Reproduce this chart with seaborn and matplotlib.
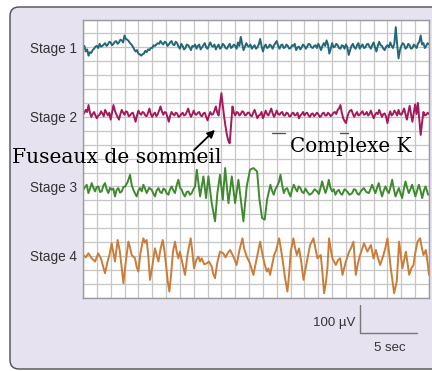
import numpy as np
import pandas as pd
import seaborn as sns
import matplotlib
matplotlib.use("Agg")
import matplotlib.pyplot as plt
from matplotlib.patches import FancyBboxPatch

# ---------------- data (units: grid cells) ----------------
stage_names = ["Stage 1", "Stage 2", "Stage 3", "Stage 4"]
stage_baselines = [18, 13, 8, 3]
stage_colors = ["#236878", "#a3195b", "#3f8a2f", "#cb7c37"]

# Stage 1 and 2 sampled every 0.1 grid cell over 25 cells (one row per cell)
stage1_values = [
    0.0, 0.1, -0.3, -0.15, -0.6, -0.35, -0.4, -0.2, -0.1, 0.05,
    0.1, -0.05, 0.25, 0.05, 0.1, 0.2, 0.3, 0.1, 0.2, 0.4,
    0.35, 0.15, 0.25, 0.4, 0.45, 0.25, 0.35, 0.55, 0.5, 0.35,
    0.85, 0.6, 0.55, 0.45, 0.3, 0.2, 0.05, -0.15, -0.3, -0.2,
    -0.45, -0.5, -0.6, -0.5, -0.45, -0.25, -0.35, -0.15, -0.2, -0.05,
    -0.05, 0.15, 0.1, 0.2, 0.3, 0.25, 0.45, 0.3, 0.2, 0.4,
    0.35, 0.1, 0.2, 0.35, 0.45, 0.2, 0.15, 0.4, 0.3, 0.05,
    -0.1, 0.25, 0.1, -0.15, -0.05, 0.2, 0.15, 0.0, -0.2, 0.1,
    0.05, 0.2, -0.1, 0.1, 0.2, -0.15, 0.0, 0.15, 0.3, 0.0,
    -0.1, 0.15, 0.35, 0.1, 0.05, 0.2, -0.15, 0.05, 0.2, -0.1,
    0.0, 0.25, 0.15, -0.05, -0.1, 0.1, 0.25, -0.05, 0.05, 0.2,
    0.1, -0.1, 0.35, 0.1, 0.75, 0.25, -0.2, 0.05, 0.3, 0.1,
    0.05, 0.2, -0.1, 0.05, 0.15, -0.1, 0.0, 0.2, 0.6, 0.1,
    -0.3, 0.05, 0.2, -0.05, 0.0, 0.2, 0.1, -0.1, 0.15, 0.3,
    0.45, 0.1, -0.1, 0.15, 0.2, -0.05, 0.0, 0.2, 0.1, -0.1,
    -0.05, 0.15, 0.1, 0.25, -0.2, 0.0, 0.05, -0.15, 0.0, 0.2,
    0.1, -0.1, 0.05, 0.25, 0.2, 0.0, -0.05, 0.1, 0.15, -0.05,
    0.25, 0.05, -0.2, 0.1, 0.3, 0.1, 0.5, 0.2, -0.45, -0.1,
    0.3, 0.0, 0.05, 0.25, 0.15, -0.05, -0.1, 0.15, 0.1, -0.1,
    0.2, 0.0, -0.55, -0.2, 0.1, 0.25, 0.0, -0.1, 0.15, 0.3,
    -0.1, 0.1, 0.2, -0.05, 0.0, 0.2, 0.25, 0.05, -0.1, 0.15,
    0.35, 0.0, -0.3, 0.1, 0.4, 0.15, 0.1, -0.1, -0.2, 0.05,
    0.15, 0.0, 0.35, 0.1, -0.05, 0.3, 1.45, 0.2, -0.8, -0.2,
    0.1, 0.3, 0.2, -0.1, 0.0, 0.25, 0.15, -0.1, -0.05, 0.2,
    0.1, -0.05, 0.25, 0.4, 0.85, 0.2, 0.3, -0.05, 0.1, 0.3,
    0.2]

stage2_values = [
    0.15, 0.3, 0.5, 0.35, 0.85, 0.3, 0.0, 0.2, 0.35, 0.1,
    -0.1, 0.1, 0.15, 0.4, 0.25, 0.05, 0.5, 0.3, 0.1, 0.3,
    -0.2, 0.3, 0.85, 0.45, 0.2, 0.0, -0.2, 0.2, 0.5, 0.3,
    0.15, 0.4, 0.35, 0.05, 0.1, 0.25, 0.3, 0.0, -0.35, 0.1,
    0.45, 0.25, 0.15, 0.35, 0.3, 0.1, 0.05, 0.3, 0.6, 0.2,
    0.0, 0.2, 0.3, 0.05, 0.2, 0.45, 0.75, 0.4, 0.15, 0.35,
    0.3, 0.0, -0.35, 0.1, 0.35, 0.2, 0.1, 0.3, 0.25, 0.0,
    0.05, 0.2, 0.3, 0.1, 0.15, 0.35, 0.6, 0.25, 0.0, 0.2,
    0.45, 0.2, 0.15, 0.3, 0.35, 0.1, 0.05, 0.25, 0.3, 0.0,
    -0.25, 0.1, 0.35, 0.15, 0.2, 0.45, 0.75, 0.3, 0.1, 0.9,
    1.7, 0.8, 0.0, -0.7, -1.3, -1.7, -1.9, -0.6, 0.75, 0.3,
    0.1, 0.35, 0.3, 0.1, 0.2, 0.4, 0.35, 0.1, 0.15, 0.3,
    0.3, 0.1, 0.05, 0.3, 0.5, 0.2, -0.1, 0.1, 0.15, 0.35,
    -0.1, 0.15, 0.45, 0.2, 0.1, 0.35, 0.6, 0.25, 0.0, 0.2,
    0.45, 0.2, 0.15, 0.3, 0.35, 0.1, 0.1, 0.3, 0.25, 0.05,
    0.05, 0.25, 0.3, 0.1, 0.15, 0.3, -0.1, 0.1, 0.2, 0.35,
    0.1, 0.25, 0.3, 0.1, 0.0, 0.2, 0.25, 0.05, 0.15, 0.3,
    0.2, 0.0, 0.05, 0.25, 0.3, 0.1, 0.1, 0.3, 0.2, 0.05,
    0.15, 0.3, 0.35, 0.2, 0.5, 0.6, 0.85, 0.3, -0.1, -0.3,
    -0.45, 0.0, 0.3, 0.45, 0.5, 0.2, 0.0, 0.2, 0.35, 0.1,
    0.15, 0.3, 0.4, 0.15, 0.2, 0.35, 0.1, 0.2, 0.45, 0.15,
    -0.1, 0.15, 0.3, 0.2, 0.5, 0.25, 0.0, 0.2, 0.25, 0.0,
    -0.45, 0.1, 0.4, 0.1, 0.2, 0.45, 0.3, 0.1, 0.5, 0.2,
    0.15, 0.35, 0.6, 0.2, -0.2, 0.3, 0.8, 0.2, -0.35, 0.3,
    0.9, 0.2, 1.0, -0.2, -1.3, -0.4, 0.35, 0.1, 0.15, 0.3,
    0.2]

# Stage 3 and 4: read points (time in grid cells, amplitude in grid cells)
stage3_time = [0.02, 0.14, 0.27, 0.39, 0.51, 0.63, 0.75, 0.87, 0.99, 1.11, 1.23, 1.35, 1.47, 1.59,
               1.71, 1.83, 1.95, 2.07, 2.19, 2.31, 2.43, 2.55, 2.67, 2.8, 2.92, 3.04, 3.22, 3.4,
               3.52, 3.64, 3.76, 3.88, 4.0, 4.12, 4.24, 4.36, 4.48, 4.6, 4.78, 4.96, 5.08, 5.2,
               5.32, 5.45, 5.57, 5.69, 5.81, 5.93, 6.05, 6.17, 6.29, 6.41, 6.53, 6.65, 6.77,
               6.89, 7.01, 7.13, 7.25, 7.37, 7.49, 7.61, 7.73, 7.86, 7.98, 8.1,
               8.22, 8.46, 8.7, 8.89, 9.06, 9.3, 9.54, 9.71, 9.9, 10.1, 10.27, 10.51, 10.75,
               10.99, 11.23, 11.59, 11.83, 12.07, 12.31, 12.58, 12.75, 12.94, 13.13, 13.3, 13.54,
               13.66, 13.78, 13.9, 14.02, 14.15, 14.27, 14.39, 14.51, 14.63, 14.75, 14.87, 14.99,
               15.11, 15.23, 15.35, 15.47, 15.59, 15.71, 15.83, 15.95, 16.07, 16.19, 16.37,
               16.55, 16.73, 16.92, 17.04, 17.16, 17.28, 17.4, 17.52, 17.64, 17.76, 17.88, 18.0,
               18.12, 18.24, 18.36, 18.48, 18.6, 18.72, 18.9, 19.08, 19.26, 19.45, 19.57, 19.69,
               19.81, 19.93, 20.11, 20.29, 20.47, 20.65, 20.77, 20.89, 21.01, 21.13, 21.25,
               21.37, 21.49, 21.61, 21.73, 21.86, 21.98, 22.1, 22.22, 22.34, 22.46, 22.58, 22.7,
               22.82, 22.94, 23.06, 23.18, 23.3, 23.42, 23.54, 23.66, 23.78, 23.9, 24.02, 24.14,
               24.27, 24.39, 24.51, 24.63, 24.75, 24.85, 24.94]
stage3_values = [-0.24, -0.05, 0.12, -0.48, -0.15, 0.24, -0.1, -0.36, -0.05, 0.0, -0.4, -0.36, 0.05, 0.24,
                 -0.2, -0.48, -0.1, -0.24, -0.15, -0.72, -0.25, -0.12, -0.45, -0.36, -0.05, 0.0, 0.3, 0.84,
                 0.1, -0.24, -0.5, -0.72, -0.3, -0.12, -0.35, 0.12, -0.15, -0.48, -0.1, -0.24, -0.5, -0.72,
                 -0.3, -0.12, -0.4, -0.48, -0.15, -0.24, -0.5, -0.6, -0.2, 0.0, -0.3, -0.48, 0.1,
                 0.48, -0.1, -0.24, -0.55, -0.72, -0.4, -0.36, -0.6, -0.48, -0.2, 0.0,
                 1.2, -0.72, 0.72, -0.84, 0.72, -1.2, -2.51, -0.48, 0.84, -0.96, 1.32, -1.2, 0.72,
                 -1.2, 0.48, -2.51, 0.0, 1.2, 1.32, 1.08, -0.96, -2.27, -2.39, -0.96, 0.12,
                 -0.3, -0.6, -0.2, 0.0, 0.3, 0.84, 0.1, -0.48, -0.2, -0.12, -0.45, -0.72,
                 -0.2, 0.12, -0.15, -0.36, 0.0, -0.12, -0.4, -0.48, -0.15, -0.36, -0.6,
                 -0.48, -0.2, -0.36, -0.55, -0.12, 0.36, -0.1, -0.48, -0.1, 0.48, -0.1, -0.36,
                 -0.2, -0.6, -0.35, -0.24, -0.5, -0.6, -0.2, -0.36, -0.6, -0.48, -0.2, -0.24,
                 -0.5, -0.6, -0.3, -0.12, -0.4, -0.48, -0.2, 0.12, -0.2, -0.48, -0.1,
                 0.24, -0.3, -0.72, -0.3, 0.0, -0.3, -0.48, -0.05, 0.48, -0.2, -0.72, -0.4,
                 -0.12, -0.5, -0.84, -0.2, 0.36, -0.1, -0.48, -0.2, 0.12, -0.3, -0.72, -0.3,
                 0.12, -0.3, -0.84, -0.3, 0.0, -0.3, -0.6]

stage4_time = [0.02, 0.2, 0.39, 0.63, 0.87, 1.1, 1.3, 1.45, 1.59, 1.8, 1.92, 2.07, 2.31, 2.5,
               2.65, 2.78, 2.92, 3.08, 3.28, 3.4, 3.52, 3.76, 3.88, 4.0, 4.15, 4.36, 4.48, 4.6,
               4.72, 4.84, 5.0, 5.2, 5.32, 5.45, 5.6, 5.76, 5.88, 6.0, 6.12, 6.24, 6.35, 6.5,
               6.65, 6.77, 6.89, 7.0, 7.2, 7.37, 7.55, 7.78, 7.9, 8.02, 8.18, 8.34, 8.46, 8.58,
               8.76, 8.94, 9.1, 9.3, 9.42, 9.54, 9.7, 9.9, 10.14, 10.3, 10.45, 10.63, 10.87,
               11.1, 11.3, 11.52, 11.65, 11.83, 12.05, 12.31, 12.55, 12.8, 12.95, 13.1, 13.28,
               13.4, 13.52, 13.81, 13.95, 14.17, 14.3, 14.41, 14.6, 14.77, 14.9, 15.01, 15.2,
               15.32, 15.45, 15.61, 15.78, 15.93, 16.08, 16.22, 16.41, 16.65, 16.8, 16.94, 17.18,
               17.3, 17.42, 17.55, 17.66, 17.78, 17.9, 18.02, 18.27, 18.42, 18.58, 18.75, 18.99,
               19.23, 19.38, 19.54, 19.71, 19.85, 20.02, 20.31, 20.55, 20.8, 20.99, 21.16, 21.3,
               21.47, 21.71, 21.85, 22.0, 22.12, 22.24, 22.48, 22.67, 22.84, 22.96, 23.08, 23.33,
               23.45, 23.57, 23.72, 23.88, 24.02, 24.17, 24.36, 24.48, 24.6, 24.77, 24.9, 25.0]
stage4_values = [0.07, -0.1, 0.19, -0.17, -0.4, 0.19, -0.2, -0.75, -1.24, -0.3, 0.1, 0.91, -0.4, 1.15,
                 0.4, -0.7, -1.96, -0.5, 1.03, 0.6, 0.07, -0.17, -0.8, -1.12, 0.2, 1.27, 0.95, 1.15,
                 0.0, -1.72, -0.8, 0.55, 0.1, -0.4, 0.5, 1.15, 0.4, -0.65, -1.8, -2.56, -1.5, 0.3,
                 1.03, 0.3, -0.17, 0.31, -0.6, -1.36, 0.1, 1.27, 0.3, -0.89, -0.3, -0.05, -0.4, -0.17,
                 -0.6, -0.53, -0.4, -0.77, -1.3, -1.6, -0.5, 0.31, 0.19, -0.1, 0.2, 0.43, -0.05,
                 -0.65, 0.4, 1.27, 0.5, -0.05, -0.5, -1.36, -0.17, 1.03, 0.2, -0.5, -1.12,
                 -0.9, -1.36, 0.07, 0.4, 1.27, 0.5, -0.17, -1.6, -2.56, -1.2, 0.31, 1.27,
                 0.6, 0.07, 0.55, -0.5, -1.72, -0.9, -0.17, 0.79, 1.27, 0.5, -0.17, 0.07,
                 -1.2, -2.68, -1.9, -0.89, 1.27, 0.5, -0.17, -0.65, -0.3, -0.17, -1.36, -0.41,
                 0.31, 0.6, 1.03, -1.36, -0.6, 0.07, 0.91, 0.31, 0.79, -0.17, 0.43, -0.1,
                 -0.65, 0.07, 0.6, 1.27, 0.2, -0.89, -2.68, -1.84, 1.03, 0.1, -0.89, 0.31,
                 -0.5, -1.36, -0.9, -0.65, 0.3, 1.03, 1.27, 0.6, 0.07, 0.43, -0.5, -1.36]

# annotations
spindle_label = "Fuseaux de sommeil"
kcomplex_label = "Complexe K"
kcomplex_marks = [(13.65, 14.6), (18.55, 19.15)]
kcomplex_level = 11.84
scale_volt_label = "100 \u00b5V"
scale_time_label = "5 sec"

# ---------------- figure ----------------
sns.set_style("white")
plt.rcParams["font.family"] = ["Liberation Sans", "DejaVu Sans"]

W, H = 432, 371
fig = plt.figure(figsize=(W / 100, H / 100), dpi=100)
fig.patch.set_facecolor("white")

# background panel (pixel coordinates)
bg = fig.add_axes([0, 0, 1, 1], zorder=-5)
bg.set_xlim(0, W)
bg.set_ylim(H, 0)
bg.axis("off")
bg.add_patch(FancyBboxPatch((10, 7), 480, 362,
                            boxstyle="round,pad=0,rounding_size=9",
                            facecolor="#e6e2f0", edgecolor="#4d4d4d",
                            linewidth=1.0, clip_on=False))

ax = fig.add_axes([83 / W, (H - 297.7) / H, (429 - 83) / W, (297.7 - 19.5) / H])
ax.set_zorder(1)
ax.set_facecolor("white")
ax.set_xlim(0, 25)
ax.set_ylim(0, 20)

ax.set_xticks(range(26))
ax.set_xticklabels([])
ax.set_yticks(range(21))
ylabels = [""] * 21
for name, base in zip(stage_names, stage_baselines):
    ylabels[base] = name
ax.set_yticklabels(ylabels, fontsize=9.8, color="#333333")
ax.tick_params(length=0, pad=4.5)
ax.grid(True, color="#c6c6c6", linewidth=0.9)
ax.set_axisbelow(True)
for s in ax.spines.values():
    s.set_color("#9a9a9a")
    s.set_linewidth(1.0)

t12 = np.linspace(0, 25, len(stage1_values))
traces = [
    (t12, stage1_values),
    (t12, stage2_values),
    (np.array(stage3_time), stage3_values),
    (np.array(stage4_time), stage4_values),
]
for (t, v), base, col in zip(traces, stage_baselines, stage_colors):
    df = pd.DataFrame({"t": t, "y": base + np.array(v)})
    sns.lineplot(data=df, x="t", y="y", ax=ax, color=col, linewidth=1.4,
                 sort=False, estimator=None)
ax.set_xlabel("")
ax.set_ylabel("")

# K-complex marks
for x0, x1 in kcomplex_marks:
    ax.plot([x0, x1], [kcomplex_level, kcomplex_level], color="#555555", lw=1.0, zorder=3)

serif = ["DejaVu Serif"]
ax.text(-5.13, 10.11, spindle_label, ha="left", va="center", fontsize=14.6,
        family=serif, color="black", clip_on=False, zorder=5)
ax.text(14.96, 10.9, kcomplex_label, ha="left", va="center", fontsize=14.3,
        family=serif, color="black", clip_on=False, zorder=5)
ax.annotate("", xy=(9.68, 12.2), xytext=(7.88, 10.47),
            arrowprops=dict(arrowstyle="-|>", color="black", lw=1.3, mutation_scale=11),
            annotation_clip=False, zorder=5)

# scale bar
ax.plot([20.0, 20.0, 24.1], [-0.52, -2.52, -2.52], color="#777777", lw=1.0,
        clip_on=False, zorder=5)
ax.text(19.65, -1.8, scale_volt_label, ha="right", va="center", fontsize=9.5,
        color="#333333", clip_on=False)
ax.text(22.18, -3.62, scale_time_label, ha="center", va="center", fontsize=9.5,
        color="#333333", clip_on=False)

fig.savefig("out.png", dpi=100, facecolor=fig.get_facecolor())
